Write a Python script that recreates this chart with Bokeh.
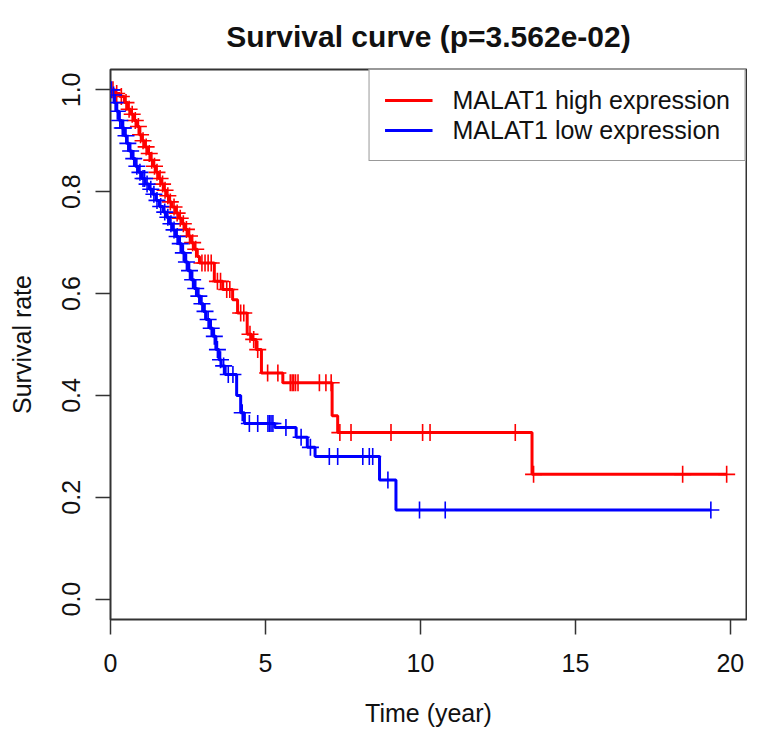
import numpy as np
from bokeh.plotting import figure
from bokeh.models import Range1d, FixedTicker, Legend, LegendItem
from bokeh.embed import file_html
from bokeh.resources import INLINE

# ---------------- data ----------------
title_text = "Survival curve (p=3.562e-02)"
x_title = "Time (year)"
y_title = "Survival rate"
series_names = ["MALAT1 high expression", "MALAT1 low expression"]

x_ticks = [0, 5, 10, 15, 20]
x_tick_labels = ["0", "5", "10", "15", "20"]
y_ticks = [0.0, 0.2, 0.4, 0.6, 0.8, 1.0]
y_tick_labels = ["0.0", "0.2", "0.4", "0.6", "0.8", "1.0"]

# Kaplan-Meier step curves: time at which level starts, survival level
high_time = [0, 0.15, 0.3, 0.45, 0.55, 0.65, 0.75, 0.85, 0.93, 1.02, 1.1, 1.2, 1.3, 1.38,
             1.47, 1.55, 1.63, 1.72, 1.8, 1.88, 1.98, 2.1, 2.2, 2.3, 2.4, 2.5, 2.6, 2.7,
             2.8, 2.87, 3.35, 3.62, 3.94, 4.1, 4.41, 4.55, 4.7, 4.87, 5.56, 7.15, 7.33,
             13.6, 19.88]
high_surv = [1.0, 0.993, 0.987, 0.975, 0.962, 0.952, 0.94, 0.928, 0.912, 0.90, 0.888, 0.875,
             0.862, 0.85, 0.838, 0.826, 0.815, 0.803, 0.792, 0.78, 0.77, 0.758, 0.748, 0.737,
             0.726, 0.713, 0.70, 0.687, 0.673, 0.66, 0.624, 0.608, 0.588, 0.562, 0.52, 0.51,
             0.49, 0.444, 0.425, 0.36, 0.327, 0.245, 0.245]
high_censor = [0.08, 0.2, 0.35, 0.5, 0.6, 0.7, 0.8, 0.9, 0.97, 1.05, 1.15, 1.25, 1.33, 1.42,
               1.5, 1.6, 1.68, 1.76, 1.85, 1.93, 2.05, 2.15, 2.25, 2.35, 2.45, 2.55, 2.65,
               2.75, 2.95, 3.05, 3.15, 3.25, 3.45, 3.55, 3.75, 3.85, 4.2, 4.3, 4.5, 4.62,
               4.75, 5.07, 5.4, 5.8, 5.86, 5.91, 5.97, 6.05, 6.74, 6.95, 7.12, 7.4, 7.76,
               9.05, 10.07, 10.31, 13.06, 13.65, 18.46, 19.88]

low_time = [0, 0.05, 0.12, 0.2, 0.28, 0.36, 0.45, 0.52, 0.6, 0.7, 0.8, 0.9, 1.0, 1.12, 1.25,
            1.36, 1.47, 1.58, 1.7, 1.8, 1.9, 2.0, 2.1, 2.2, 2.3, 2.4, 2.5, 2.6, 2.7, 2.8, 2.9,
            3.0, 3.08, 3.2, 3.3, 3.4, 3.5, 3.57, 3.7, 4.07, 4.2, 4.32, 5.3, 5.99, 6.35, 6.6,
            8.68, 9.21, 19.37]
low_surv = [1.0, 0.99, 0.975, 0.958, 0.94, 0.925, 0.91, 0.895, 0.88, 0.865, 0.85, 0.838,
            0.826, 0.815, 0.805, 0.795, 0.783, 0.771, 0.76, 0.75, 0.737, 0.725, 0.712, 0.698,
            0.68, 0.662, 0.645, 0.627, 0.61, 0.595, 0.58, 0.565, 0.549, 0.532, 0.516, 0.49,
            0.47, 0.458, 0.441, 0.40, 0.366, 0.345, 0.337, 0.318, 0.298, 0.28, 0.234, 0.175,
            0.175]
low_censor = [0.03, 0.1, 0.15, 0.22, 0.3, 0.38, 0.42, 0.5, 0.56, 0.65, 0.75, 0.85, 0.95,
              1.05, 1.1, 1.18, 1.3, 1.4, 1.5, 1.62, 1.75, 1.85, 1.95, 2.05, 2.15, 2.25, 2.35,
              2.45, 2.55, 2.65, 2.75, 2.85, 2.95, 3.05, 3.15, 3.25, 3.35, 3.45, 3.55, 3.65,
              3.8, 3.95, 4.25, 4.48, 4.75, 5.08, 5.13, 5.18, 5.24, 5.66, 6.15, 6.45, 7.06,
              7.33, 8.14, 8.35, 8.46, 8.95, 9.97, 10.8, 19.37]


def level_at(times, levels, t):
    idx = np.searchsorted(np.asarray(times), np.asarray(t), side="right") - 1
    return np.asarray(levels)[idx]


FONT = "Liberation Sans"
RED = "#FF0000"
BLUE = "#0000FF"
FRAME = "#333333"
TEXT = "#111111"

p = figure(width=747, height=734,
           x_range=Range1d(0, 20.52), y_range=Range1d(-0.04, 1.04),
           output_backend="svg", toolbar_location=None,
           min_border_left=110, min_border_right=1,
           min_border_top=69, min_border_bottom=115)

p.background_fill_color = "white"
p.border_fill_color = "white"
p.outline_line_color = FRAME
p.outline_line_width = 2
p.xgrid.grid_line_color = None
p.ygrid.grid_line_color = None

# title
p.title.text = title_text
p.title.align = "center"
p.title.text_font = FONT
p.title.text_font_style = "bold"
p.title.text_font_size = "30px"
p.title.text_color = TEXT
p.title.standoff = 34
p.title.offset = 3

# axes
p.xaxis.ticker = FixedTicker(ticks=x_ticks)
p.xaxis.major_label_overrides = {t: l for t, l in zip(x_ticks, x_tick_labels)}
p.yaxis.ticker = FixedTicker(ticks=y_ticks)
p.yaxis.major_label_overrides = {t: l for t, l in zip(y_ticks, y_tick_labels)}
p.xaxis.axis_label = x_title
p.yaxis.axis_label = y_title
for ax in (p.xaxis, p.yaxis):
    ax.axis_line_color = None
    ax.major_tick_out = 15
    ax.major_tick_in = 0
    ax.minor_tick_line_color = None
    ax.major_tick_line_color = FRAME
    ax.major_tick_line_width = 1.5
    ax.major_label_text_font = FONT
    ax.major_label_text_font_size = "25px"
    ax.major_label_text_color = TEXT
    ax.axis_label_text_font = FONT
    ax.axis_label_text_font_size = "25px"
    ax.axis_label_text_font_style = "normal"
    ax.axis_label_text_color = TEXT
p.xaxis.major_label_standoff = 19
p.xaxis.axis_label_standoff = 24
p.yaxis.major_label_orientation = "vertical"
p.yaxis.major_label_standoff = 15
p.yaxis.axis_label_standoff = 24

# curves
r_high = p.step(high_time, high_surv, mode="after", line_color=RED, line_width=3)
r_low = p.step(low_time, low_surv, mode="after", line_color=BLUE, line_width=3)
p.scatter(high_censor, level_at(high_time, high_surv, high_censor), marker="cross",
          size=17, line_color=RED, line_width=1.6)
p.scatter(low_censor, level_at(low_time, low_surv, low_censor), marker="cross",
          size=17, line_color=BLUE, line_width=1.6)

# legend
legend = Legend(items=[LegendItem(label=series_names[0], renderers=[r_high]),
                       LegendItem(label=series_names[1], renderers=[r_low])],
                location="top_right", margin=0, padding=15, spacing=0,
                glyph_width=48, glyph_height=30, label_height=30, label_standoff=20,
                label_text_font=FONT, label_text_font_size="25px",
                label_text_color=TEXT,
                border_line_color=FRAME, border_line_width=1.5,
                background_fill_color="white", background_fill_alpha=1.0)
p.add_layout(legend)

open("out.html", "w").write(file_html(p, INLINE))
